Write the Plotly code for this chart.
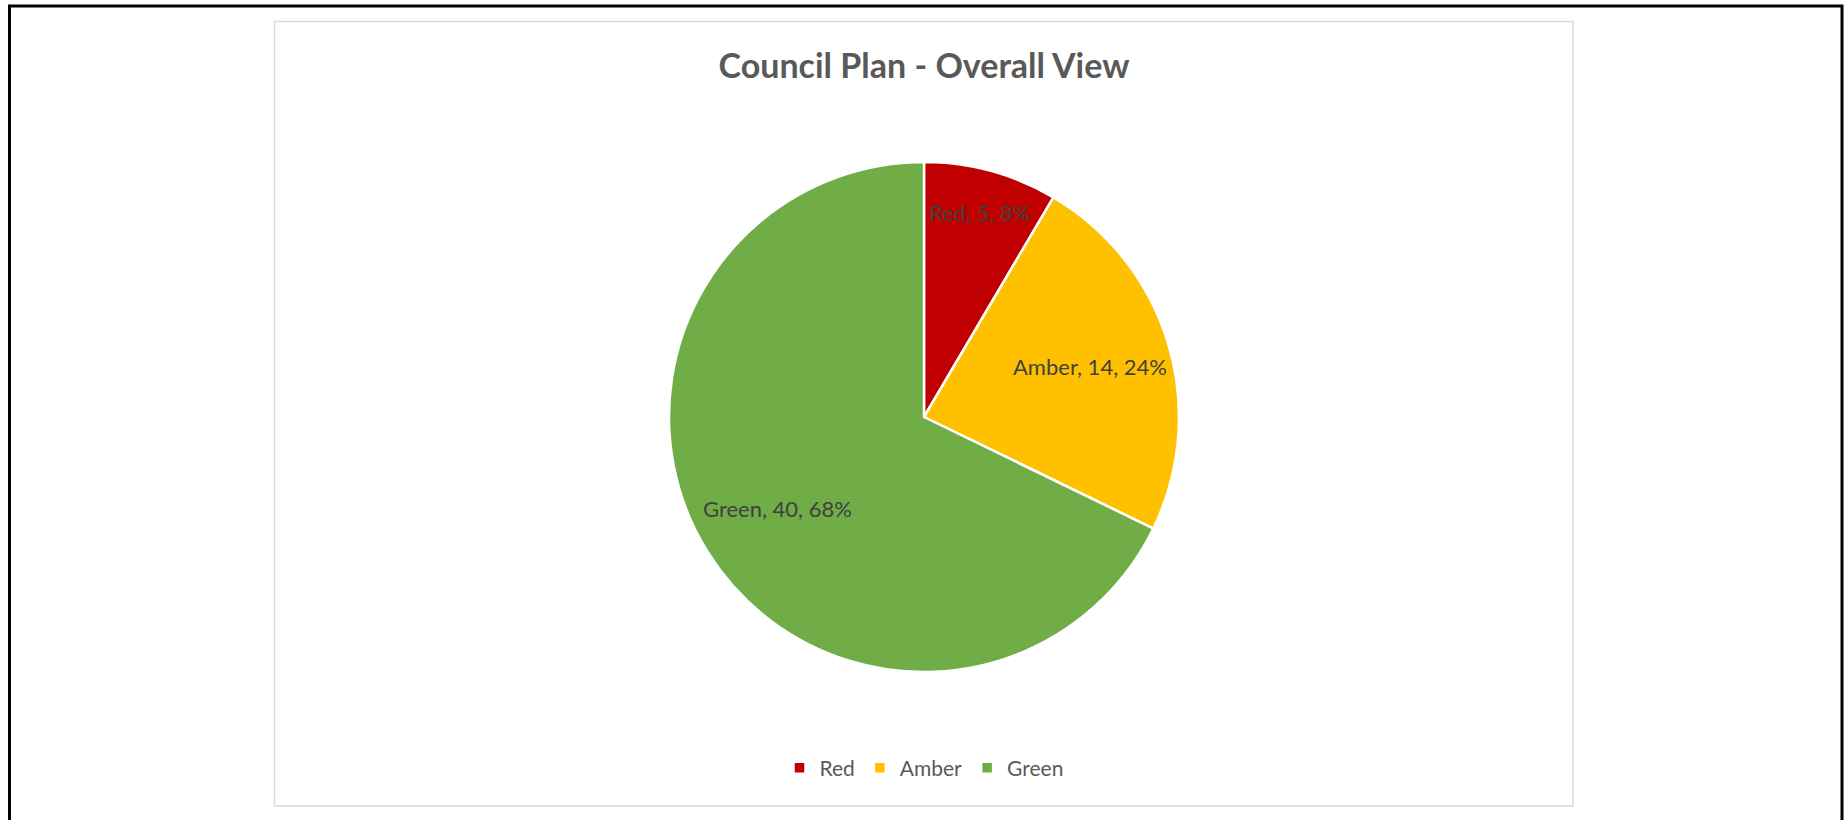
import math
import plotly.graph_objects as go

W, H = 1847, 820

categories = ["Red", "Amber", "Green"]
values = [5, 14, 40]
colors = ["#C00000", "#FFC000", "#70AD47"]
title_text = "Council Plan - Overall View"

# style: radial placement of the data labels (fraction of the pie radius)
label_radius = [0.83, 0.68, 0.68]

FONT = "Lato"

cx, cy, R = 924, 417, 255

fig = go.Figure(go.Pie(
    labels=categories,
    values=values,
    sort=False,
    direction="clockwise",
    rotation=0,
    marker=dict(colors=colors, line=dict(color="white", width=2.5)),
    textinfo="none",
    hoverinfo="label+value+percent",
    domain=dict(x=[(cx - R) / W, (cx + R) / W], y=[(H - cy - R) / H, (H - cy + R) / H]),
))

# data labels placed on each slice's bisector, computed from the values
total = sum(values)
annotations = []
cum = 0
for lab, v, f in zip(categories, values, label_radius):
    mid = (cum + v / 2) / total * 2 * math.pi
    cum += v
    px = cx + f * R * math.sin(mid)
    py = cy - f * R * math.cos(mid)
    annotations.append(dict(
        x=px / W, y=1 - py / H, xref="paper", yref="paper",
        text=f"{lab}, {v}, {round(100 * v / total)}%", showarrow=False,
        xanchor="center", yanchor="middle",
        font=dict(family=FONT, size=22, color="#404040"),
    ))

fig.update_layout(
    width=W, height=H,
    margin=dict(l=0, r=0, t=0, b=0),
    paper_bgcolor="white",
    plot_bgcolor="white",
    annotations=annotations,
    title=dict(text="<b>" + title_text + "</b>", x=cx / W, xanchor="center",
               y=1 - 66 / H, yanchor="middle", yref="container",
               font=dict(family=FONT, size=34, color="#595959")),
    legend=dict(orientation="h", x=cx / W, xanchor="center", y=1 - 768 / H, yanchor="middle",
                font=dict(family=FONT, size=21, color="#595959"), traceorder="normal"),
    shapes=[
        dict(type="rect", xref="paper", yref="paper",
             x0=274.5 / W, x1=1573 / W, y0=1 - 806 / H, y1=1 - 21.5 / H,
             line=dict(color="#D9D9D9", width=1.5), fillcolor="rgba(0,0,0,0)", layer="below"),
        dict(type="rect", xref="paper", yref="paper",
             x0=9.5 / W, x1=1842 / W, y0=-0.05, y1=1 - 6 / H,
             line=dict(color="black", width=3), fillcolor="rgba(0,0,0,0)", layer="above"),
    ],
)

fig.write_html("out.html")
